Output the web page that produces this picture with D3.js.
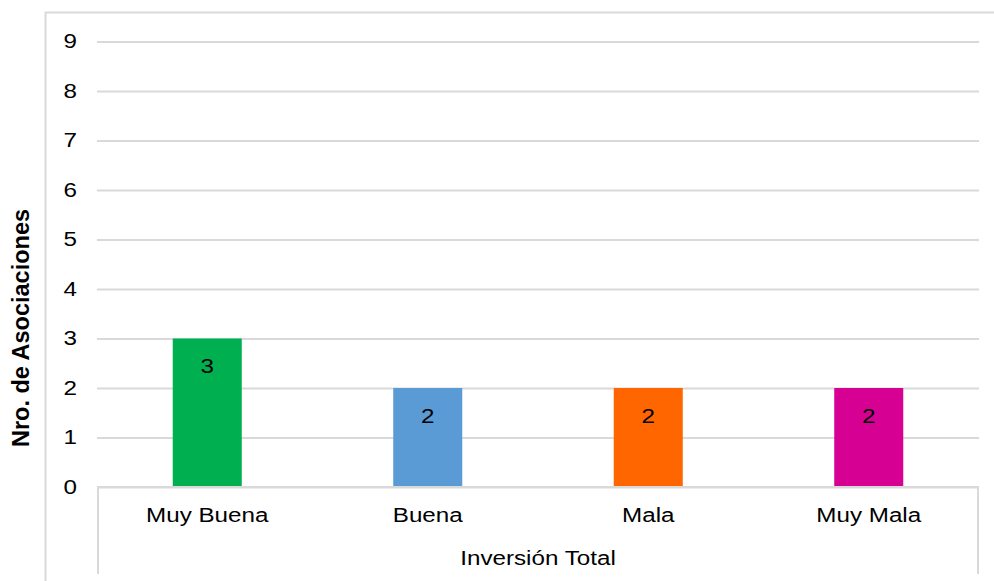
<!DOCTYPE html>
<html>
<head>
<meta charset="utf-8">
<script src="https://cdn.jsdelivr.net/npm/d3@7"></script>
<style>
  body { margin: 0; background: #fff; }
  svg { display: block; font-family: 'Liberation Sans', Arial, sans-serif; }
</style>
</head>
<body>
<div id="svg-container"></div>
<script>
const categories = ['Muy Buena', 'Buena', 'Mala', 'Muy Mala']
const values = [3, 2, 2, 2]
const barColors = ['#00b050', '#5b9bd5', '#ff6600', '#d60093']
const yTicks = [0, 1, 2, 3, 4, 5, 6, 7, 8, 9]
const xAxisTitle = 'Inversión Total'
const yAxisTitle = 'Nro. de Asociaciones'

const svgWidth = 994
const svgHeight = 581
const marginLeft = 97
const marginRight = 15
const marginTop = 41.5
const plotBottom = 487

// the source picture has text a bit wider than tall
const stretchX = 1.21
const fontSize = 20

const width = svgWidth - marginLeft - marginRight
const height = plotBottom - marginTop

const svg = d3
  .select('#svg-container')
  .append('svg')
  .attr('width', svgWidth)
  .attr('height', svgHeight)

// outer chart border (left + top)
svg
  .append('path')
  .attr('d', `M45.5,${svgHeight} V12.5 H${svgWidth}`)
  .attr('fill', 'none')
  .attr('stroke', '#d9d9d9')
  .attr('stroke-width', 2)

const coreChart = svg
  .append('g')
  .attr('transform', `translate(${marginLeft}, ${marginTop})`)

const yScale = d3.scaleLinear().domain([0, 9]).range([height, 0])
const xScale = d3
  .scaleBand()
  .domain(categories)
  .range([0, width])
  .paddingInner(0.687)
  .paddingOuter(0.3435)

const addLabel = (parent, x, y, text, anchor = 'middle') =>
  parent
    .append('g')
    .attr('transform', `translate(${x}, ${y}) scale(${stretchX}, 1)`)
    .append('text')
    .attr('text-anchor', anchor)
    .style('font-size', `${fontSize}px`)
    .attr('fill', '#000')
    .text(text)

// y title with white backing over the border
const yTitle = svg
  .append('g')
  .attr('transform', 'translate(21, 328) rotate(-90)')
const yTitleBg = yTitle.append('rect').attr('fill', '#fff')
const yTitleText = yTitle
  .append('text')
  .attr('text-anchor', 'middle')
  .attr('dy', '0.35em')
  .style('font-size', '23.5px')
  .style('font-weight', 700)
  .attr('fill', '#000')
  .text(yAxisTitle)
const bb = yTitleText.node().getBBox()
yTitleBg
  .attr('x', bb.x - 8)
  .attr('y', bb.y - 4)
  .attr('width', bb.width + 16)
  .attr('height', bb.height + 8)

// gridlines + y labels
const yAxis = coreChart.append('g').attr('class', 'y-axis')
yAxis
  .call(d3.axisLeft(yScale).tickValues(yTicks).tickSize(-width).tickPadding(20))
  .call(g => g.select('.domain').remove())
  .call(g => g.selectAll('.tick line').attr('stroke', '#d9d9d9').attr('stroke-width', 2))
  .call(g =>
    g
      .selectAll('.tick text')
      .attr('fill', '#000')
      .attr('x', -20 / stretchX)
      .attr('transform', `scale(${stretchX}, 1)`)
      .style('font-size', `${fontSize}px`)
      .attr('font-family', null),
  )

// bars
coreChart
  .append('g')
  .selectAll('rect')
  .data(values)
  .join('rect')
  .attr('x', (d, i) => xScale(categories[i]))
  .attr('y', d => yScale(d))
  .attr('width', xScale.bandwidth())
  .attr('height', d => height - yScale(d))
  .attr('fill', (d, i) => barColors[i])

// value labels inside bars
const valueLabels = coreChart.append('g')
values.forEach((d, i) => {
  addLabel(
    valueLabels,
    xScale(categories[i]) + xScale.bandwidth() / 2,
    yScale(d) + 34.5,
    d,
  )
})

// x axis box
coreChart
  .append('path')
  .attr(
    'd',
    `M1,${svgHeight - marginTop - 7} V${height} H${width - 1} V${svgHeight - marginTop - 7}`,
  )
  .attr('fill', 'none')
  .attr('stroke', '#d9d9d9')
  .attr('stroke-width', 2)

const catLabels = coreChart.append('g')
categories.forEach(c => {
  addLabel(catLabels, xScale(c) + xScale.bandwidth() / 2, height + 35, c)
})

addLabel(coreChart, width / 2, height + 78, xAxisTitle)
</script>
</body>
</html>
